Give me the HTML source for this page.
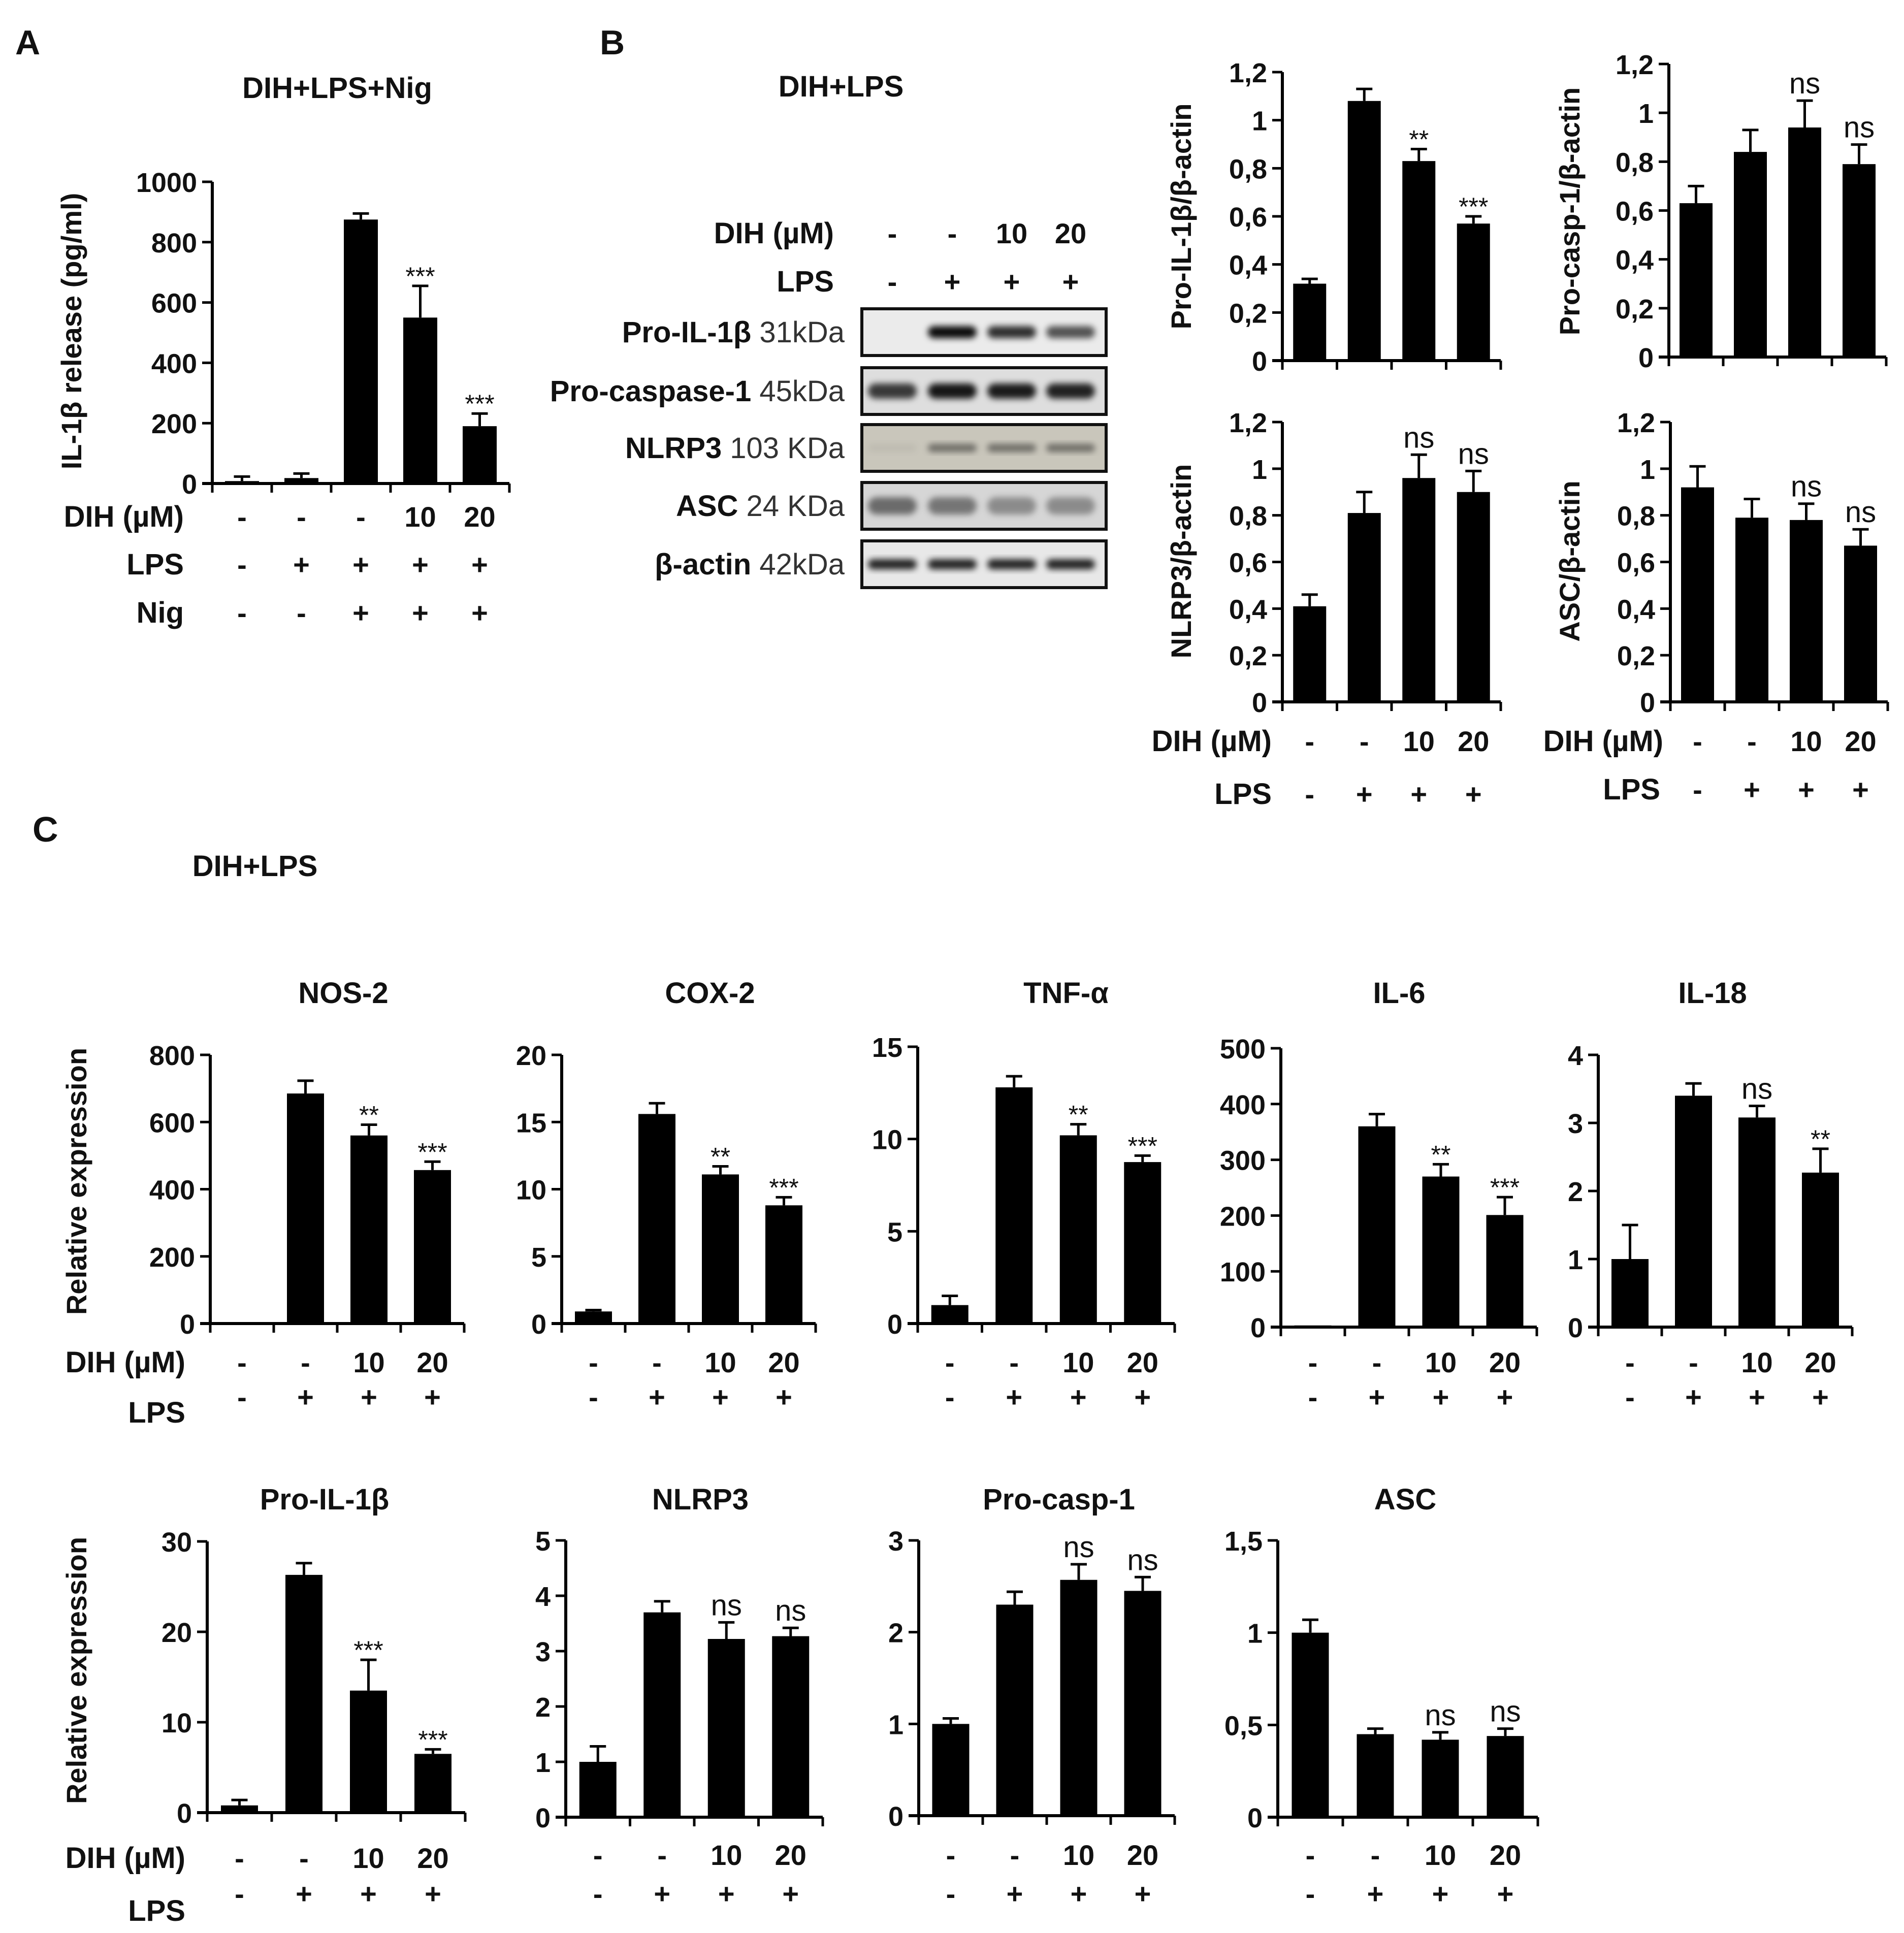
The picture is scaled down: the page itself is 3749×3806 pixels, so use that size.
<!DOCTYPE html>
<html><head><meta charset="utf-8"><style>
html,body{margin:0;padding:0;background:#fff;}
svg{display:block;}
text{font-family:"Liberation Sans",Arial,sans-serif;fill:#111;}
</style></head><body>
<svg id="fig" width="3749" height="3806" viewBox="0 0 3749 3806" xmlns="http://www.w3.org/2000/svg">
<defs>
<filter id="blur" x="-20%" y="-50%" width="140%" height="200%"><feGaussianBlur stdDeviation="6"/></filter>
</defs>
<text x="30" y="107" font-size="68" font-weight="bold">A</text>
<text x="1181" y="107" font-size="68" font-weight="bold">B</text>
<text x="64" y="1657" font-size="70" font-weight="bold">C</text>
<text x="664" y="193" font-size="58" font-weight="bold" text-anchor="middle">DIH+LPS+Nig</text>
<text x="1656" y="190" font-size="58" font-weight="bold" text-anchor="middle">DIH+LPS</text>
<text x="502" y="1725" font-size="58" font-weight="bold" text-anchor="middle">DIH+LPS</text>
<g id="blot"></g>
<g id="charts"></g>
</svg>
<script>
// ---- data arrays ----
const aValues = [8, 18, 875, 550, 190];
const aErrors = [15, 15, 20, 105, 42];
const aAnnots = ['', '', '', '***', '***'];
const bProIL1bValues = [0.32, 1.08, 0.83, 0.57];
const bProIL1bErrors = [0.02, 0.05, 0.05, 0.03];
const bProIL1bAnnots = ['', '', '**', '***'];
const bProCaspValues = [0.63, 0.84, 0.94, 0.79];
const bProCaspErrors = [0.07, 0.09, 0.11, 0.08];
const bNlrp3Values = [0.41, 0.81, 0.96, 0.90];
const bNlrp3Errors = [0.05, 0.09, 0.10, 0.09];
const bAscValues = [0.92, 0.79, 0.78, 0.67];
const bAscErrors = [0.09, 0.08, 0.07, 0.07];
const nsAnnots = ['', '', 'ns', 'ns'];
const nos2Values = [0, 685, 560, 457];
const nos2Errors = [0, 38, 32, 25];
const cox2Values = [0.9, 15.6, 11.1, 8.8];
const cox2Errors = [0.1, 0.8, 0.6, 0.6];
const tnfValues = [1, 12.8, 10.2, 8.75];
const tnfErrors = [0.5, 0.6, 0.6, 0.35];
const il6Values = [3, 360, 270, 201];
const il6Errors = [0, 22, 22, 32];
const il18Values = [1, 3.4, 3.08, 2.27];
const il18Errors = [0.5, 0.18, 0.17, 0.35];
const cProIL1bValues = [0.8, 26.3, 13.5, 6.5];
const cProIL1bErrors = [0.6, 1.3, 3.4, 0.5];
const cNlrp3Values = [1, 3.7, 3.22, 3.27];
const cNlrp3Errors = [0.28, 0.2, 0.3, 0.15];
const cProCaspValues = [1, 2.3, 2.57, 2.45];
const cProCaspErrors = [0.06, 0.14, 0.17, 0.15];
const cAscValues = [1, 0.45, 0.42, 0.44];
const cAscErrors = [0.07, 0.03, 0.04, 0.04];
const starAnnots = ['', '', '**', '***'];
const il18Annots = ['', '', 'ns', '**'];
const commaTicks12 = ['0', '0,2', '0,4', '0,6', '0,8', '1', '1,2'];
const ascTicks = ['0', '0,5', '1', '1,5'];
const dih5 = ['-', '-', '-', '10', '20'];
const lps5 = ['-', '+', '+', '+', '+'];
const nig5 = ['-', '-', '+', '+', '+'];
const dih4 = ['-', '-', '10', '20'];
const lps4 = ['-', '+', '+', '+'];

const NS = 'http://www.w3.org/2000/svg';
const root = document.getElementById('charts');
function mk(tag, attrs, parent) {
  const e = document.createElementNS(NS, tag);
  for (const k in attrs) e.setAttribute(k, attrs[k]);
  parent.appendChild(e);
  return e;
}
function txt(parent, x, y, s, size, opts) {
  opts = opts || {};
  const t = mk('text', {x: x, y: y, 'font-size': size, 'text-anchor': opts.anchor || 'middle', 'font-weight': opts.weight || 'bold'}, parent);
  if (opts.fill) t.setAttribute('fill', opts.fill);
  if (opts.transform) t.setAttribute('transform', opts.transform);
  t.textContent = s;
  return t;
}

function chart(c) {
  const g = mk('g', {}, root);
  
  
  const n = c.values.length;
  const yS = v => c.y0 - (v / c.max) * (c.y0 - c.yTop);
  const xS = i => c.ax + c.s * (i + 0.5);
  const xEnd = c.ax + c.s * n;
  c.values.forEach((v, i) => {
    const b = mk('rect', {x: xS(i) - c.bw / 2, y: yS(v), width: c.bw, height: c.y0 - yS(v), fill: '#000'}, g);
    
    
    const e = c.errors[i];
    if (e > 0) {
      const et = yS(v + e);
      const eb = mk('path', {d: `M${xS(i)} ${yS(v)}V${et}M${xS(i) - 16} ${et}H${xS(i) + 16}`, stroke: '#000', 'stroke-width': 5, fill: 'none'}, g);
      
      
    }
    const a = c.annots ? c.annots[i] : '';
    if (a) {
      const top = yS(v + e);
      let t;
      if (a === 'ns') t = txt(g, xS(i), top - 14, a, 58, {weight: 'normal', fill: '#444'});
      else t = txt(g, xS(i), top - 2, a, 50, {weight: 'normal', fill: '#555'});
      
      
    }
  });
  const ax = mk('path', {d: `M${c.ax} ${c.yTop}V${c.y0}M${c.ax - 20} ${c.y0}H${xEnd}`, stroke: '#000', 'stroke-width': 6, fill: 'none'}, g);
  
  
  let tk = '';
  c.ticks.forEach((lab, k) => {
    const y = c.y0 - k * (c.y0 - c.yTop) / (c.ticks.length - 1);
    tk += `M${c.ax - 20} ${y}H${c.ax}`;
    const t = txt(g, c.ax - 30, y + 20, lab, 54, {anchor: 'end'});
    
    
  });
  for (let i = 0; i <= n; i++) tk += `M${c.ax + c.s * i} ${c.y0}V${c.y0 + 18}`;
  mk('path', {d: tk, stroke: '#000', 'stroke-width': 5, fill: 'none'}, g);
  if (c.title) {
    const t = txt(g, c.title[1], c.title[2], c.title[0], 58);
    
    
  }
  if (c.ytitle) {
    const t = txt(g, 0, 0, c.ytitle[0], 56, {transform: `translate(${c.ytitle[1]},${c.ytitle[2]}) rotate(-90)`});
    
    
  }
  (c.rows || []).forEach(r => {
    r.vals.forEach((s, i) => {
      const t = txt(g, xS(i), r.y, s, 56);
      
      
    });
    if (r.label) {
      const t = txt(g, r.lx, r.ly || r.y, r.label, 58, {anchor: 'end'});
      
      
    }
  });
}

// Panel A
chart({name: 'il1b-release-chart', ax: 418, y0: 952, yTop: 358, max: 1000, s: 117, bw: 67,
  values: aValues, errors: aErrors, annots: aAnnots,
  ticks: ['0', '200', '400', '600', '800', '1000'],
  ytitle: ['IL-1β release (pg/ml)', 160, 652],
  rows: [{label: 'DIH (µM)', lx: 362, y: 1037, vals: dih5}, {label: 'LPS', lx: 362, y: 1131, vals: lps5}, {label: 'Nig', lx: 362, y: 1226, vals: nig5}]});
// Panel B charts
chart({name: 'pro-il1b-ratio-chart', ax: 2525, y0: 710, yTop: 142, max: 1.2, s: 107.5, bw: 65,
  values: bProIL1bValues, errors: bProIL1bErrors, annots: bProIL1bAnnots, ticks: commaTicks12,
  ytitle: ['Pro-IL-1β/β-actin', 2345, 426]});
chart({name: 'pro-casp1-ratio-chart', ax: 3286, y0: 703, yTop: 126, max: 1.2, s: 107, bw: 65,
  values: bProCaspValues, errors: bProCaspErrors, annots: nsAnnots, ticks: commaTicks12,
  ytitle: ['Pro-casp-1/β-actin', 3110, 416]});
chart({name: 'nlrp3-ratio-chart', ax: 2525, y0: 1382, yTop: 831, max: 1.2, s: 107.5, bw: 65,
  values: bNlrp3Values, errors: bNlrp3Errors, annots: nsAnnots, ticks: commaTicks12,
  ytitle: ['NLRP3/β-actin', 2345, 1105],
  rows: [{label: 'DIH (µM)', lx: 2504, y: 1479, vals: dih4}, {label: 'LPS', lx: 2504, y: 1583, vals: lps4}]});
chart({name: 'asc-ratio-chart', ax: 3289, y0: 1382, yTop: 831, max: 1.2, s: 107, bw: 65,
  values: bAscValues, errors: bAscErrors, annots: nsAnnots, ticks: commaTicks12,
  ytitle: ['ASC/β-actin', 3110, 1105],
  rows: [{label: 'DIH (µM)', lx: 3275, y: 1479, vals: dih4}, {label: 'LPS', lx: 3269, y: 1574, vals: lps4}]});
// Panel C row 1
const r1 = [{y: 2702, vals: dih4}, {y: 2770, vals: lps4}];
chart({name: 'nos2-chart', ax: 414, y0: 2606, yTop: 2077, max: 800, s: 125, bw: 73,
  values: nos2Values, errors: nos2Errors, annots: ['', '', '**', '***'], ticks: ['0', '200', '400', '600', '800'],
  title: ['NOS-2', 676, 1975], ytitle: ['Relative expression', 170, 2326],
  rows: [{label: 'DIH (µM)', lx: 365, y: 2702, vals: dih4}, {label: 'LPS', lx: 365, y: 2770, ly: 2801, vals: lps4}]});
chart({name: 'cox2-chart', ax: 1106, y0: 2606, yTop: 2077, max: 20, s: 125, bw: 73,
  values: cox2Values, errors: cox2Errors, annots: starAnnots, ticks: ['0', '5', '10', '15', '20'],
  title: ['COX-2', 1398, 1975], rows: r1});
chart({name: 'tnfa-chart', ax: 1807, y0: 2606, yTop: 2061, max: 15, s: 126.5, bw: 73,
  values: tnfValues, errors: tnfErrors, annots: starAnnots, ticks: ['0', '5', '10', '15'],
  title: ['TNF-α', 2099, 1975], rows: r1});
chart({name: 'il6-chart', ax: 2522, y0: 2613, yTop: 2064, max: 500, s: 126, bw: 73,
  values: il6Values, errors: il6Errors, annots: starAnnots, ticks: ['0', '100', '200', '300', '400', '500'],
  title: ['IL-6', 2755, 1975], rows: r1});
chart({name: 'il18-chart', ax: 3147, y0: 2613, yTop: 2077, max: 4, s: 125, bw: 73,
  values: il18Values, errors: il18Errors, annots: il18Annots, ticks: ['0', '1', '2', '3', '4'],
  title: ['IL-18', 3372, 1975], rows: r1});
// Panel C row 2
const r2 = [{y: 3672, vals: dih4}, {y: 3748, vals: lps4}];
chart({name: 'pro-il1b-expression-chart', ax: 408, y0: 3569, yTop: 3035, max: 30, s: 127, bw: 73,
  values: cProIL1bValues, errors: cProIL1bErrors, annots: ['', '', '***', '***'], ticks: ['0', '10', '20', '30'],
  title: ['Pro-IL-1β', 639, 2972], ytitle: ['Relative expression', 170, 3289],
  rows: [{label: 'DIH (µM)', lx: 365, y: 3678, vals: dih4}, {label: 'LPS', lx: 365, y: 3748, ly: 3782, vals: lps4}]});
chart({name: 'nlrp3-expression-chart', ax: 1114, y0: 3578, yTop: 3033, max: 5, s: 126.5, bw: 73,
  values: cNlrp3Values, errors: cNlrp3Errors, annots: nsAnnots, ticks: ['0', '1', '2', '3', '4', '5'],
  title: ['NLRP3', 1379, 2972], rows: r2});
chart({name: 'pro-casp1-expression-chart', ax: 1809, y0: 3575, yTop: 3033, max: 3, s: 126, bw: 73,
  values: cProCaspValues, errors: cProCaspErrors, annots: nsAnnots, ticks: ['0', '1', '2', '3'],
  title: ['Pro-casp-1', 2085, 2972], rows: r2});
chart({name: 'asc-expression-chart', ax: 2516, y0: 3578, yTop: 3033, max: 1.5, s: 128, bw: 73,
  values: cAscValues, errors: cAscErrors, annots: nsAnnots, ticks: ascTicks,
  title: ['ASC', 2767, 2972], rows: r2});

// ---- Western blot ----
const blot = document.getElementById('blot');
const laneX = [1757, 1875, 1992, 2108];
const blotDih = ['-', '-', '10', '20'];
const blotLps = ['-', '+', '+', '+'];
blotDih.forEach((s, i) => { const t = txt(blot, laneX[i], 479, s, 56);   });
blotLps.forEach((s, i) => { const t = txt(blot, laneX[i], 574, s, 56);   });
let t0 = txt(blot, 1642, 479, 'DIH (µM)', 58, {anchor: 'end'});  
t0 = txt(blot, 1642, 574, 'LPS', 58, {anchor: 'end'});  
const blotRows = [
  {name: 'Pro-IL-1β', kda: '31kDa', top: 608, bg: '#ebebeb', bands: [0, 0.95, 0.8, 0.65], h: 24},
  {name: 'Pro-caspase-1', kda: '45kDa', top: 724, bg: '#dedede', bands: [0.75, 0.9, 0.88, 0.85], h: 30},
  {name: 'NLRP3', kda: '103 KDa', top: 836, bg: '#c9c6bb', bands: [0.05, 0.45, 0.45, 0.45], h: 16},
  {name: 'ASC', kda: '24 KDa', top: 950, bg: '#d6d6d6', bands: [0.5, 0.45, 0.35, 0.35], h: 34},
  {name: 'β-actin', kda: '42kDa', top: 1065, bg: '#e8e8e8', bands: [0.85, 0.85, 0.85, 0.85], h: 20}
];
blotRows.forEach(r => {
  const g = mk('g', {}, blot);
  
  
  mk('rect', {x: 1697, y: r.top, width: 481, height: 92, fill: r.bg}, g);
  r.bands.forEach((b, i) => {
    if (b > 0) mk('rect', {x: laneX[i] - 48, y: r.top + 46 - r.h / 2, width: 96, height: r.h, rx: r.h / 2, fill: '#000', 'fill-opacity': b, filter: 'url(#blur)'}, g);
  });
  mk('rect', {x: 1697, y: r.top, width: 481, height: 92, fill: 'none', stroke: '#111', 'stroke-width': 6}, g);
  const t = mk('text', {x: 1663, y: r.top + 66, 'font-size': 58, 'text-anchor': 'end'}, g);
  
  
  const a = mk('tspan', {'font-weight': 'bold'}, t); a.textContent = r.name + ' ';
  const b = mk('tspan', {'font-weight': 'normal', fill: '#333'}, t); b.textContent = r.kda;
});
</script>
</body></html>
